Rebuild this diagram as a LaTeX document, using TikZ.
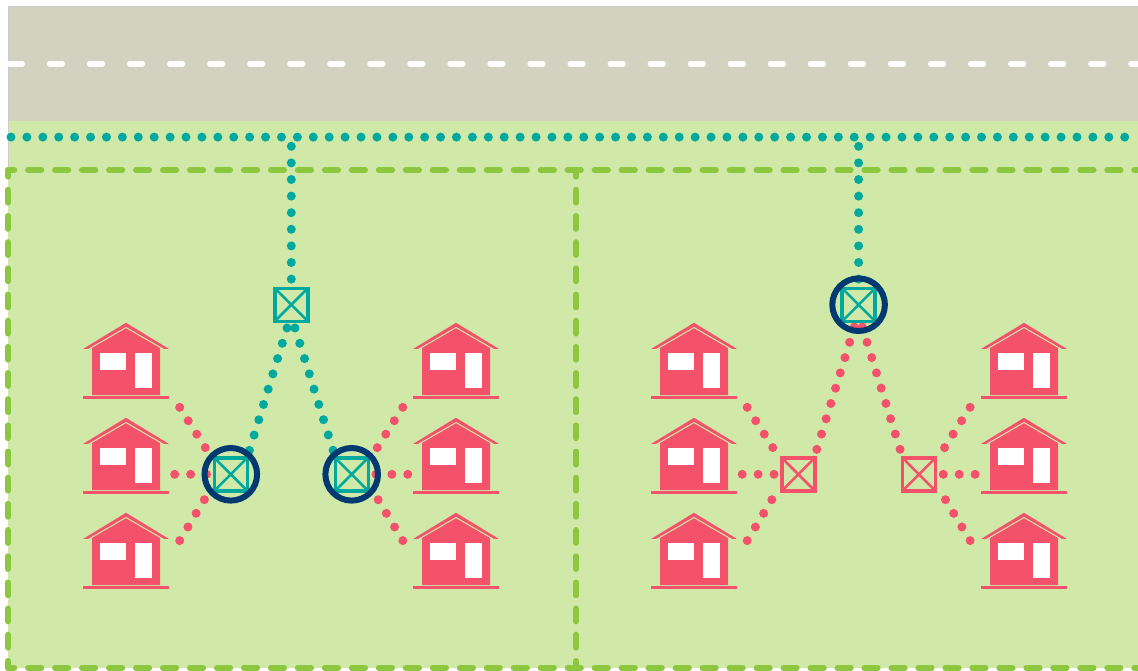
\documentclass[tikz,border=0pt]{standalone}
\usetikzlibrary{calc}
\definecolor{roadgray}{HTML}{D3D2C1}
\definecolor{lawn}{HTML}{D0E9A8}
\definecolor{parcel}{HTML}{8DC63F}
\definecolor{tealc}{HTML}{00A99D}
\definecolor{pinkc}{HTML}{F4516A}
\definecolor{navyc}{HTML}{003A70}
\tikzset{
  x=1pt,y=-1pt,
  dotline/.style={line width=9pt,line cap=round,dash pattern=on 0pt off 15.91pt},
  tealdots/.style={dotline,draw=tealc},
  pinkdots/.style={dotline,draw=pinkc},
  parcelh/.style={draw=parcel,line width=5.8pt,line cap=round,dash pattern=on 13.4pt off 13.58pt,dash phase=7pt},
  parcelv/.style={draw=parcel,line width=5.8pt,line cap=round,dash pattern=on 13pt off 13.17pt,dash phase=6.4pt},
  crossbox/.style={draw=#1,line width=3.4pt,fill=none,minimum size=33pt,inner sep=0pt,outer sep=0pt,rectangle,
    path picture={\draw[#1,line width=2.5pt] (path picture bounding box.north west)--(path picture bounding box.south east)
      (path picture bounding box.north east)--(path picture bounding box.south west);}},
  ring/.style={draw=navyc,line width=6pt,circle,minimum size=52.6pt,inner sep=0pt,outer sep=0pt},
  house/.pic={
    \fill[pinkc] (0,-0.2)--(42.7,25.8)--(38,25.8)--(0,3.8)--(-38,25.8)--(-42.7,25.8)--cycle;
    \fill[pinkc] (-34,25)--(0,5.3)--(34,25)--(34,72)--(-34,72)--cycle;
    \fill[white] (-25.7,30) rectangle (0,47.3);
    \fill[white] (9,30) rectangle (26,65.3);
    \fill[pinkc] (-42.7,73) rectangle (42.7,75.5);
  }
}
\begin{document}
\begin{tikzpicture}
\useasboundingbox (0,0) rectangle (1138,671);
\fill[white] (0,0) rectangle (1138,671);
\fill[roadgray] (8,6) rectangle (1138,121);
\fill[lawn] (8,121) rectangle (1138,668);
\draw[gray!40,line width=0.5pt] (1138,6)--(8,6)--(8,170);
% road centre line
\coordinate (roadL) at (9.7,63.7);
\coordinate (roadR) at (1138,63.7);
\draw[white,line width=5.8pt,line cap=round,dash pattern=on 12.4pt off 27.65pt] (roadL)--(roadR);
% parcels
\coordinate (pTL) at (8,170);
\coordinate (pTR) at (1138,170);
\coordinate (pBL) at (8,668);
\coordinate (pBR) at (1138,668);
\coordinate (pTM) at (576,170);
\coordinate (pBM) at (576,668);
\draw[parcelh] (pTL)--(pTR);
\draw[parcelh] (pBL)--(pBR);
\draw[parcelv] (pTL)--(pBL);
\draw[parcelv] (pTM)--(pBM);
% houses
\foreach \hx in {126,456,694,1024}
  \foreach \hy in {323,418,513}
    \pic at (\hx,\hy) {house};
% nodes
\coordinate (T1) at (291.3,304.7);
\coordinate (C1) at (230.8,474.3);
\coordinate (C2) at (351.7,474.3);
\coordinate (T2) at (858.6,304.7);
\coordinate (B1) at (798.3,474.3);
\coordinate (B2) at (919,474.3);
% main cable
\coordinate (mainL) at (11,137.1);
\coordinate (mainR) at (1138,137.1);
\draw[tealdots] (mainL)--(mainR);
\coordinate (drop1) at (291.3,146.3);
\coordinate (drop2) at (858.6,146.3);
\draw[tealdots,dash pattern=on 0pt off 16.6pt] (drop1)--($(T1)+(0,-24)$);
\draw[tealdots,dash pattern=on 0pt off 16.6pt] (drop2)--($(T2)+(0,-24)$);
% distribution
\draw[tealdots,dash pattern=on 0pt off 16pt] ($(T1)+(-4.3,23.3)$)--($(C1)+(18.6,-23.9)$);
\draw[tealdots,dash pattern=on 0pt off 16pt] ($(T1)+(3.7,23.3)$)--($(C2)+(-18.6,-23.9)$);
\draw[pinkdots,dash pattern=on 0pt off 16pt] ($(T2)+(-4.3,22.3)$)--($(B1)+(18.2,-23.9)$);
\draw[pinkdots,dash pattern=on 0pt off 16pt] ($(T2)+(3.7,22.3)$)--($(B2)+(-18.6,-23.9)$);
% house drops
\foreach \n/\s in {C1/1,B1/1,C2/-1,B2/-1}{
  \draw[pinkdots] ($(\n)+(\s*-51.1,-67)$)--($(\n)+(\s*-25.3,-26.3)$);
  \draw[pinkdots] ($(\n)+(\s*-56.1,0)$)--($(\n)+(\s*-23.9,0)$);
  \draw[pinkdots] ($(\n)+(\s*-51.1,66.3)$)--($(\n)+(\s*-25.3,23.5)$);
}
% boxes
\node[crossbox=tealc] (boxT1) at (T1) {};
\node[crossbox=tealc] (boxC1) at (C1) {};
\node[crossbox=tealc] (boxC2) at (C2) {};
\node[crossbox=tealc] (boxT2) at (T2) {};
\node[crossbox=pinkc] (boxB1) at (B1) {};
\node[crossbox=pinkc] (boxB2) at (B2) {};
\node[ring] (ringC1) at (C1) {};
\node[ring] (ringC2) at (C2) {};
\node[ring] (ringT2) at (T2) {};
\end{tikzpicture}
\end{document}
